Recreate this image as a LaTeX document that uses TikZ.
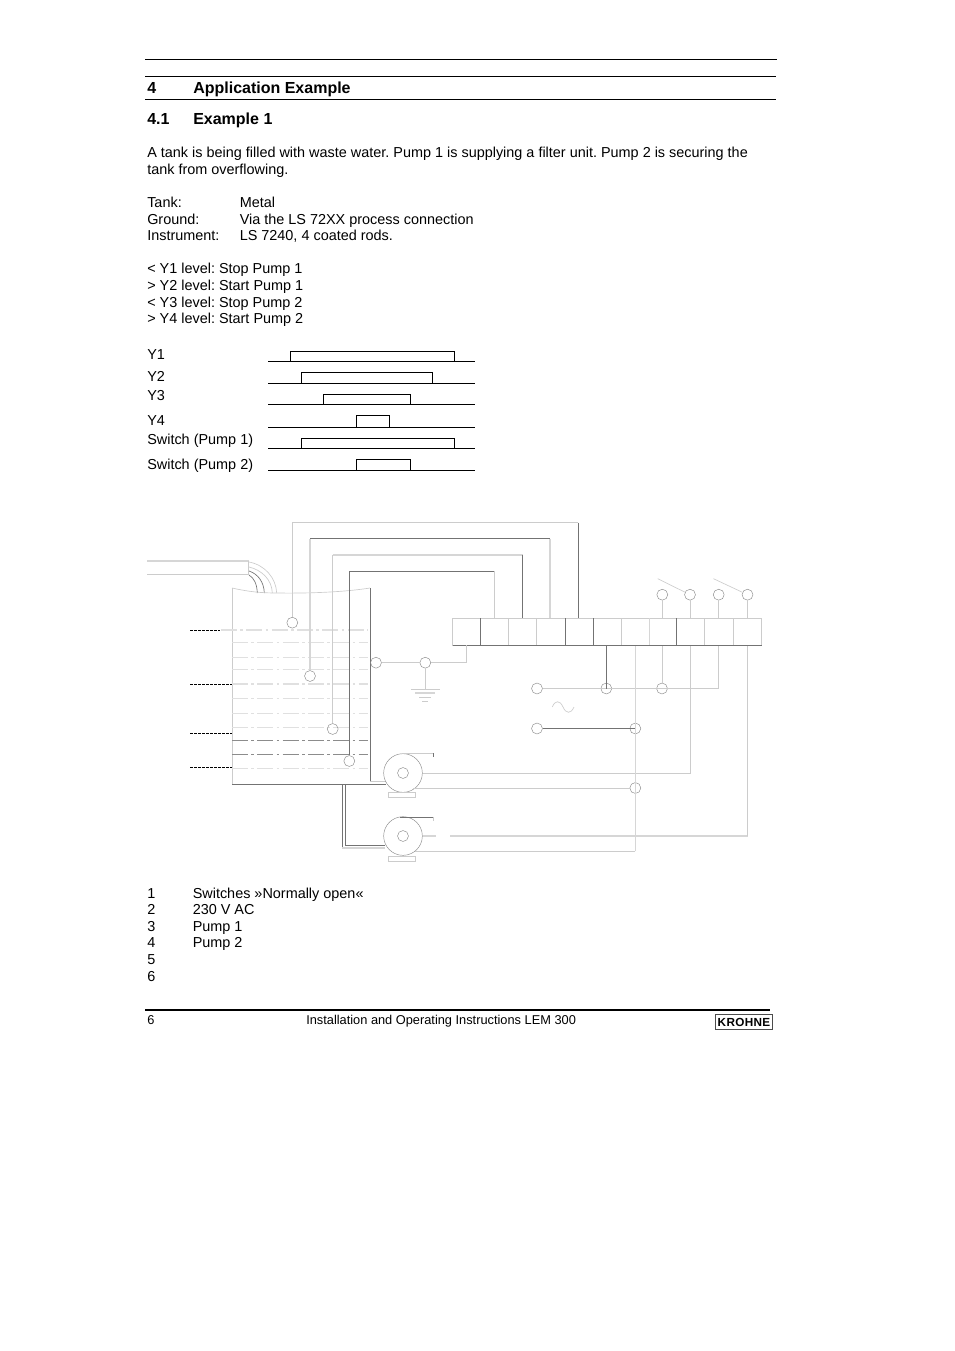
\documentclass[tikz,border=0pt]{standalone}
\usepackage{fontspec}
\setmainfont{Liberation Sans}
\usetikzlibrary{calc}
\tikzset{txt/.style={anchor=base west,inner sep=0pt,font=\fontsize{10.82}{13}\selectfont\frenchspacing}}
\tikzset{hd/.style={txt,font=\fontsize{12}{13}\selectfont\bfseries}}
\tikzset{foot/.style={txt,font=\fontsize{9.6}{11}\selectfont}}
\tikzset{vert/.style={draw=black!45,circle,minimum size=8.2pt,inner sep=0pt,line width=0.35pt}}
\tikzset{wl/.style={draw=black!20,line width=0.5pt}}
\tikzset{wd/.style={draw=black!55,line width=0.5pt}}
\tikzset{wt/.style={draw=black!16,line width=1.1pt}}
\tikzset{lv/.style={draw=black!12,line width=0.5pt,dash pattern=on 12pt off 2.5pt on 2pt off 2.5pt}}
\tikzset{lvd/.style={lv,draw=black!45}}
\tikzset{lvt/.style={lv,line width=1pt}}
\tikzset{mk/.style={draw=black,line width=0.5pt,dash pattern=on 2pt off 1pt}}
\tikzset{wave/.style={draw=black,line width=0.6pt}}
\begin{document}
\begin{tikzpicture}[x=0.75pt,y=-0.75pt]
\useasboundingbox (0,0) rectangle (954,1351);

% page head
\draw[wave] (145,59.5) -- (777,59.5);
\draw[wave] (145,76.5) -- (776,76.5);
\draw[wave] (145,99.5) -- (776,99.5);
\node[hd] (h1) at (147,93.5) {4};
\node[hd] (h1t) at (193,93.5) {Application Example};
\node[hd] (h2) at (147,124.7) {4.1};
\node[hd] (h2t) at (193,124.7) {Example 1};

\node[txt] (para1) at (147,158) {A tank is being filled with waste water. Pump 1 is supplying a filter unit. Pump 2 is securing the};
\node[txt] (para2) at (147,175) {tank from overflowing.};
\node[txt] (tank) at (147,208) {Tank:};
\node[txt] (tankv) at (239.5,208) {Metal};
\node[txt] (ground) at (147,225) {Ground:};
\node[txt] (groundv) at (239.5,225) {Via the LS 72XX process connection};
\node[txt] (instr) at (147,241) {Instrument:};
\node[txt] (instrv) at (239.5,241) {LS 7240, 4 coated rods.};
\node[txt] (lev1) at (147,274) {< Y1 level: Stop Pump 1};
\node[txt] (lev2) at (147,291) {> Y2 level: Start Pump 1};
\node[txt] (lev3) at (147,308) {< Y3 level: Stop Pump 2};
\node[txt] (lev4) at (147,324) {> Y4 level: Start Pump 2};

% timing
\node[txt] (y1) at (147,359) {Y1};
\node[txt] (y2) at (147,381.5) {Y2};
\node[txt] (y3) at (147,400) {Y3};
\node[txt] (y4) at (147,425) {Y4};
\node[txt] (sw1) at (147,444) {Switch (Pump 1)};
\node[txt] (sw2) at (147,469) {Switch (Pump 2)};
\draw[wave] (268,361.3) -- (475,361.3);
\draw[wave] (290.3,361.3) -- (290.3,351.3) -- (454.3,351.3) -- (454.3,361.3);
\draw[wave] (268,383.3) -- (475,383.3);
\draw[wave] (301.7,383.3) -- (301.7,372.7) -- (432.7,372.7) -- (432.7,383.3);
\draw[wave] (268,404.3) -- (475,404.3);
\draw[wave] (323.7,404.3) -- (323.7,394) -- (410.7,394) -- (410.7,404.3);
\draw[wave] (268,427) -- (475,427);
\draw[wave] (356.7,427) -- (356.7,415.3) -- (389.7,415.3) -- (389.7,427);
\draw[wave] (268,448.3) -- (475,448.3);
\draw[wave] (301.7,448.3) -- (301.7,438.3) -- (454.3,438.3) -- (454.3,448.3);
\draw[wave] (268,470.3) -- (475,470.3);
\draw[wave] (356.7,470.3) -- (356.7,459.3) -- (410.7,459.3) -- (410.7,470.3);

% cable and tank
\draw[wt] (147,561) -- (248.5,561);
\draw[wl] (147,574) -- (248.5,574);
\draw[wl] (248.5,561) -- (248.5,575);
\draw[wl] (249,562) .. controls (265,565) and (276,578) .. (276.7,593);
\draw[wl] (249,567) .. controls (262,570) and (272,580) .. (272.3,593);
\draw[wd] (249,571) .. controls (258,574) and (264,582) .. (264.3,593);
\draw[wd] (249,575) .. controls (254,578) and (257,584) .. (257.3,593);
\draw[wl] (232,588) .. controls (250,592) and (262,593) .. (277,593) .. controls (310,593.5) and (345,592) .. (370,588);
\draw[wl] (232,588) -- (232,784);
\draw[wd] (232,784) -- (386,784);
\draw[wd] (370,588) -- (370,781);
\draw[wl] (370,781) -- (386,781);
\draw[wd] (342.3,784) -- (342.3,848);
\draw[wt] (342.3,848) -- (385,848);
\draw[wd] (345.5,784) -- (345.5,845) -- (385,845);

% levels
\draw[lvt] (221,630) -- (368,630);
\draw[lv] (232,642.5) -- (368,642.5);
\draw[lv] (232,657.5) -- (368,657.5);
\draw[lv] (232,669.5) -- (368,669.5);
\draw[lvt] (232,684) -- (368,684);
\draw[lv] (232,698.5) -- (368,698.5);
\draw[lv] (232,713.5) -- (368,713.5);
\draw[lv] (232,727.5) -- (368,727.5);
\draw[lvd] (232,740.3) -- (368,740.3);
\draw[lvd] (232,754.3) -- (368,754.3);
\draw[lvt] (232,768.7) -- (368,768.7);
\draw[mk] (190,630.3) -- (220,630.3);
\draw[mk] (190,684.3) -- (232,684.3);
\draw[mk] (190,733.3) -- (232,733.3);
\draw[mk] (190,767.3) -- (232,767.3);

% terminals
\node[draw=black!20,line width=0.5pt,inner sep=0pt,minimum width=231.75pt,minimum height=20.25pt] (block) at (607.2,631.8) {};
\draw[wd] (452.7,645.3) -- (761.7,645.3);
\draw[wd] (480.7,618.3) -- (480.7,645.3);
\draw[wl] (508.7,618.3) -- (508.7,645.3);
\draw[wl] (536.7,618.3) -- (536.7,645.3);
\draw[wd] (565.7,618.3) -- (565.7,645.3);
\draw[wd] (593.7,618.3) -- (593.7,645.3);
\draw[wl] (621.7,618.3) -- (621.7,645.3);
\draw[wt] (649.3,618.3) -- (649.3,645.3);
\draw[wd] (676.7,618.3) -- (676.7,645.3);
\draw[wl] (704.7,618.3) -- (704.7,645.3);
\draw[wl] (733.7,618.3) -- (733.7,645.3);

% rods
\node[vert] (rod1) at (292.3,622.7) {};
\node[vert] (rod2) at (310,676) {};
\node[vert] (rod3) at (332.7,729) {};
\node[vert] (rod4) at (349.3,761) {};
\coordinate (top1) at (292.3,522.5);
\coordinate (top2) at (310,538.5);
\coordinate (top3) at (332.7,554.8);
\coordinate (top4) at (349.3,571.3);
\coordinate (end1) at (578.3,618.3);
\coordinate (end2) at (550,618.3);
\coordinate (end3) at (522.5,618.3);
\coordinate (end4) at (494.7,618.3);
\draw[wl] (rod1) -- (top1) -- (top1 -| end1);
\draw[wd] (top1 -| end1) -- (end1);
\draw[wt] (rod2) -- (top2);
\draw[wd] (top2) -- (top2 -| end2);
\draw[wt] (top2 -| end2) -- (end2);
\draw[wl] (rod3) -- (top3);
\draw[wt] (top3) -- (top3 -| end3);
\draw[wd] (top3 -| end3) -- (end3);
\draw[wd] (rod4) -- (top4) -- (top4 -| end4);
\draw[wl] (top4 -| end4) -- (end4);

% ground
\node[vert] (tk) at (376,662.7) {};
\node[vert] (gnd) at (425.3,662.7) {};
\coordinate (gndf) at (425.3,689.3);
\coordinate (in1) at (466.7,645.3);
\draw[wl] (tk) -- (gnd);
\draw[wl] (gnd) -- (gnd -| in1) -- (in1);
\draw[wl] (gnd) -- (gndf);
\draw[wl] (411,689.3) -- (440,689.3);
\draw[wt] (415,693) -- (435,693);
\draw[wl] (419,697.3) -- (431,697.3);
\draw[wl] (422,701.3) -- (428,701.3);

% switches
\node[vert] (s1) at (662.3,594.7) {};
\node[vert] (s2) at (690,594.7) {};
\node[vert] (s3) at (718.7,594.7) {};
\node[vert] (s4) at (747.5,594.7) {};
\coordinate (lev1a) at (657.7,578.7);
\coordinate (lev2a) at (713.5,578.7);
\draw[wl] (lev1a) -- (s2);
\draw[wl] (lev2a) -- (s4);
\draw[wl] (s1) -- (s1 |- block.north);
\draw[wl] (s2) -- (s2 |- block.north);
\draw[wl] (s3) -- (s3 |- block.north);
\draw[wl] (s4) -- (s4 |- block.north);

% supply
\node[vert] (ac1) at (537,688.5) {};
\node[vert] (ac2) at (606.3,688.5) {};
\node[vert] (ac3) at (662,688.5) {};
\node[vert] (ac4) at (537,728.5) {};
\node[vert] (ac5) at (635.3,728.5) {};
\node[vert] (ac6) at (635.3,788) {};
\coordinate (ac7) at (718.7,688.5);
\draw[wl] (ac1) -- (ac7) -- (ac7 |- block.south);
\draw[wd] (ac2.center) -- (ac2 |- block.south);
\draw[wl] (ac3) -- (ac3 |- block.south);
\draw[wd] (ac4) -- (ac5.center);
\draw[wl] (552.3,707) .. controls (555,700) and (560,700) .. (563,707) .. controls (566,714) and (571,714) .. (574,707);

% pumps
\node[vert,minimum size=29pt] (p1) at (403,773) {};
\node[vert] (p1c) at (403,773) {};
\node[vert,minimum size=29pt] (p2) at (403,836) {};
\node[vert] (p2c) at (403,836) {};
\draw[wl] (388.3,792.3) rectangle (415.7,797.3);
\draw[wl] (388.3,856.3) rectangle (415.7,861.3);
\draw[wl] (401.7,753.3) -- (433.7,753.3);
\draw[wd] (433.7,753.3) -- (433.7,757);
\draw[wd] (400,817.3) -- (433.7,817.3);
\draw[wl] (433.7,817.3) -- (433.7,821);
\coordinate (r1) at (690,773);
\coordinate (r2) at (747.5,836);
\coordinate (r3) at (635.3,851.3);
\coordinate (l1) at (413,788);
\coordinate (l2) at (415,851.3);
\coordinate (gap1) at (436,836);
\coordinate (gap2) at (450,836);
\draw[wl] (p1) -- (r1) -- (r1 |- block.south);
\draw[wl] (l1) -- (ac6);
\draw[wt] (p2) -- (gap1);
\draw[wt] (gap2) -- (r2);
\draw[wl] (r2) -- (r2 |- block.south);
\draw[wl] (l2) -- (r3);
\draw[wt] (r3) -- (r3 |- block.south);

% legend
\node[txt] (n1) at (147,898) {1};
\node[txt] (n1t) at (192.5,898) {Switches »Normally open«};
\node[txt] (n2) at (147,914) {2};
\node[txt] (n2t) at (192.5,914) {230 V AC};
\node[txt] (n3) at (147,931) {3};
\node[txt] (n3t) at (192.5,931) {Pump 1};
\node[txt] (n4) at (147,947) {4};
\node[txt] (n4t) at (192.5,947) {Pump 2};
\node[txt] (n5) at (147,964) {5};
\node[txt] (n6) at (147,981) {6};

% page foot
\draw[draw=black,line width=1.2pt] (145,1010) -- (770,1010);
\node[foot] (page) at (147,1024) {6};
\node[foot] (title) at (306,1024) {Installation and Operating Instructions LEM 300};
\node[draw=black!70,line width=0.8pt,inner sep=0pt,minimum width=43pt,minimum height=11.5pt,font=\fontsize{8.8}{10}\selectfont\bfseries\addfontfeature{LetterSpace=3}] (logo) at (744,1022) {KROHNE};
\end{tikzpicture}
\end{document}
